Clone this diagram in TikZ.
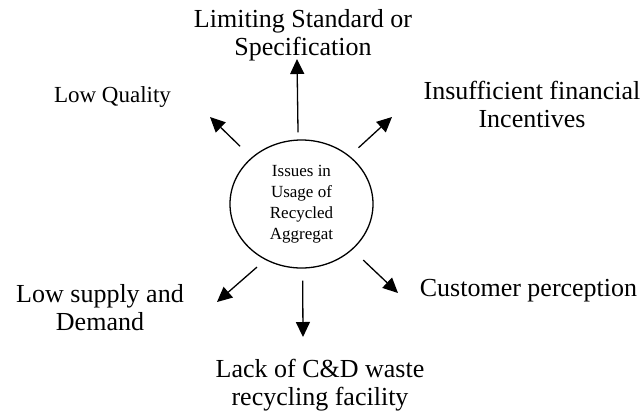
\documentclass[tikz,border=0pt]{standalone}
\usepackage{fontspec}
\setmainfont{Liberation Serif}
\usetikzlibrary{shapes.geometric,arrows.meta}

\begin{document}
\begin{tikzpicture}[x=1pt, y=-1pt]
	\tikzset{rond/.style={ellipse, draw=black, line width=1.3pt, minimum width=143pt, minimum height=128pt, inner sep=0pt, align=center, font=\fontsize{17}{21}\selectfont},
	etiquette/.style={align=center, inner sep=0pt, font=\fontsize{26}{28}\selectfont},
	fleche/.style={line width=1.3pt, -{Triangle[length=15pt,width=14pt]}}};

	\useasboundingbox (0,0) rectangle (644,410);

	\node[rond] (issues) at (301.5,204) {Issues in\\Usage of\\Recycled\\Aggregat};

	\node[etiquette] (limit) at (303,35.5) {Limiting Standard or\\Specification};
	\node[etiquette, font=\fontsize{23}{26}\selectfont] (quality) at (112.5,96.5) {Low Quality};
	\node[etiquette] (incent) at (532,104) {Insufficient financial\\Incentives};
	\node[etiquette] (client) at (528.5,291) {Customer perception};
	\node[etiquette] (supply) at (100,308) {Low supply and\\Demand};
	\node[etiquette] (lack) at (320,385) {Lack of C\&D waste\\recycling facility};

	% pointes des fleches
	\coordinate (t-limit) at (297,59);
	\coordinate (t-quality) at (210,117);
	\coordinate (t-incent) at (392,117);
	\coordinate (t-client) at (398,293);
	\coordinate (t-supply) at (217,302);
	\coordinate (t-lack) at (303,337);

	\foreach \ang/\gap/\cible in {93/7pt/limit, 137/16pt/quality, 45/12pt/incent, -42/15pt/client, 237/11pt/supply, -89/12pt/lack}
		\draw[fleche, shorten <=\gap] (issues.\ang) -- (t-\cible);

\end{tikzpicture}
\end{document}
